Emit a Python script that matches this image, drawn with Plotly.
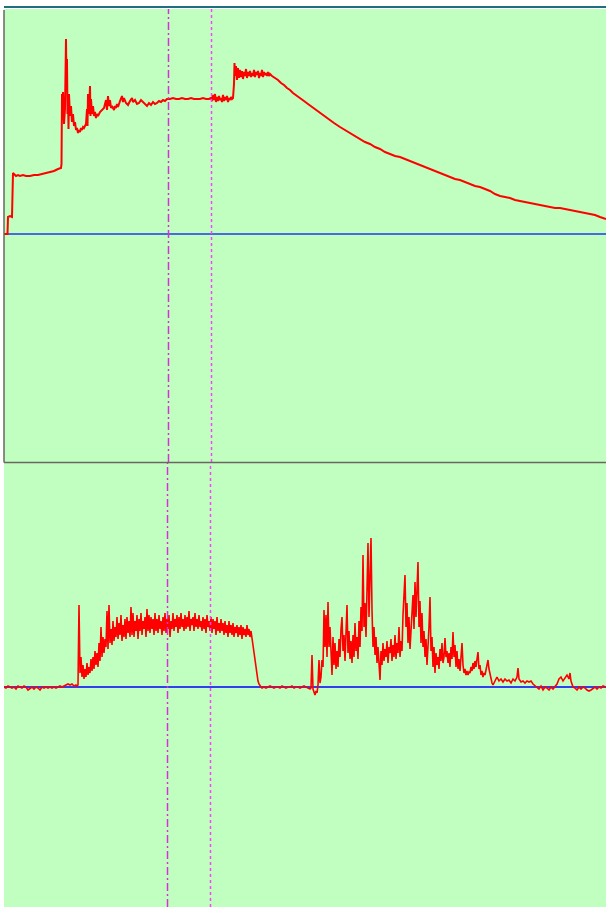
import plotly.graph_objects as go

# ---------------- data (sample index, signal value) ----------------
top_time = [4, 6, 7.5, 8, 10, 12, 12.5, 13, 14, 16, 18, 20, 23, 26, 30, 34, 38, 42, 46, 50, 54, 58, 61, 61.5,
            62, 62.5, 63, 64, 65, 66, 66.5, 67, 67.5, 68, 68.5, 69, 70, 71, 72, 73, 74, 75, 76, 77, 78, 79, 80,
            81, 82, 83, 84, 85, 86, 87, 87.5, 88, 89, 90, 90.5, 91, 92, 93, 94, 95, 96, 97, 98, 100, 102, 104,
            106, 107, 108, 109, 110, 111, 112, 113, 114, 115, 116, 117, 118, 120, 122, 123, 124, 126, 128, 130,
            132, 133, 135, 137, 139, 141, 143, 145, 147, 149, 151, 153, 155, 157, 159, 161, 163, 165, 167, 170,
            173, 176, 179, 182, 185, 188, 191, 194, 197, 200, 203, 206, 209, 211, 212, 213, 214, 215, 216, 217,
            218, 219, 220, 221, 222, 223, 224, 225, 226, 227, 228, 229, 230, 231, 232, 233, 234, 234.5, 235,
            236, 237, 238, 239, 240, 241, 242, 243, 244, 245, 246, 247, 248, 249, 250, 251, 252, 253, 254, 255,
            256, 257, 258, 259, 260, 261, 262, 263, 264, 265, 266, 267, 268, 269, 270, 272, 275, 278, 281, 284,
            287, 290, 293, 296, 300, 304, 308, 312, 316, 320, 324, 328, 334, 340, 345, 350, 355, 360, 365, 370,
            375, 380, 385, 390, 395, 400, 405, 410, 415, 420, 425, 430, 435, 440, 445, 450, 455, 460, 465, 470,
            475, 480, 485, 490, 495, 500, 505, 510, 515, 520, 525, 530, 535, 540, 545, 550, 555, 560, 565, 570,
            575, 580, 585, 590, 595, 600, 606]
top_value = [0, 0, 0, 17, 18, 17, 40, 61, 60, 58, 59, 58, 59, 58, 58, 59, 59, 60, 61, 62, 63, 65, 66, 70,
             140, 128, 142, 110, 125, 195, 150, 175, 120, 138, 105, 140, 118, 128, 112, 120, 108, 112, 104, 106,
             101, 104, 102, 106, 104, 107, 106, 108, 110, 125, 108, 140, 120, 148, 118, 135, 120, 128, 118, 122,
             116, 120, 118, 122, 124, 126, 134, 124, 138, 128, 134, 126, 128, 126, 124, 128, 126, 130, 127, 133,
             138, 132, 136, 131, 129, 133, 136, 132, 134, 130, 131, 134, 132, 130, 128, 131, 129, 132, 130, 131,
             133, 132, 134, 133, 135, 135, 136, 135, 135, 136, 135, 135, 136, 135, 135, 135, 136, 135, 135, 136,
             133, 139, 134, 140, 132, 137, 133, 138, 134, 136, 132, 139, 133, 137, 134, 138, 132, 136, 134, 137,
             135, 136, 150, 171, 158, 168, 154, 166, 156, 164, 157, 163, 155, 162, 158, 165, 156, 162, 158, 163,
             157, 161, 158, 164, 157, 162, 159, 163, 156, 161, 158, 164, 157, 162, 159, 161, 158, 162, 158, 160,
             158, 156, 154, 151, 149, 146, 144, 141, 139, 136, 133, 130, 127, 124, 121, 118, 115, 111, 107, 104,
             101, 98, 95, 92, 90, 87, 85, 82, 80, 78, 77, 75, 73, 71, 69, 67, 65, 63, 61, 59, 57, 55, 54, 52, 50,
             48, 47, 45, 43, 40, 38, 37, 36, 34, 33, 32, 31, 30, 29, 28, 27, 26, 26, 25, 24, 23, 22, 21, 20, 19,
             17, 15]

# bottom signal, quiet start (every 2nd sample)
bot_a_time = list(range(4, 78, 2))
bot_a_value = [0, -1, 1, 0, -1, 0, -2, 1, 0, -1, 1, 0, -3, -1, 0, -2, 0, -1, -3, 0, -1, 0, -1, 0, -1,
               0, -1, 0, 1, 0, 1, 2, 3, 2, 3, 1, 2]
# first active burst (every sample, 77..262)
bot_b_time = list(range(77, 263))
bot_b_value = [1,
               2, 82, 14, 30, 10, 22, 8, 18, 10, 24,
               12, 20, 14, 28, 16, 30, 18, 36, 22, 34,
               20, 44, 26, 60, 30, 50, 34, 48, 40, 76,
               38, 82, 44, 58, 42, 66, 46, 60, 50, 70,
               48, 64, 52, 72, 46, 62, 50, 68, 48, 70,
               54, 66, 50, 80, 52, 74, 50, 66, 56, 72,
               48, 68, 56, 74, 52, 66, 58, 70, 50, 78,
               56, 72, 54, 70, 58, 68, 52, 74, 56, 68,
               54, 72, 58, 66, 52, 70, 56, 74, 54, 68,
               58, 72, 50, 66, 58, 74, 56, 68, 60, 72,
               54, 70, 58, 74, 60, 68, 56, 72, 58, 70,
               60, 76, 56, 68, 62, 70, 56, 74, 60, 68,
               58, 72, 60, 66, 56, 70, 58, 68, 54, 72,
               60, 66, 56, 70, 54, 68, 58, 66, 52, 70,
               56, 64, 54, 68, 56, 64, 52, 66, 54, 62,
               50, 66, 54, 62, 52, 64, 50, 60, 54, 62,
               50, 60, 52, 62, 48, 60, 52, 58, 50, 62,
               52, 58, 50, 56, 48, 40, 34, 26, 18, 12,
               6, 3, 1, 0, -1]
# quiet gap (every 2nd sample)
bot_c_time = list(range(264, 312, 2))
bot_c_value = [0, -1, 0, 1, 0, -1, 0, 0, -1, 1, 0, -1, 0, 0, 1, -1, 0, 0, -1, 0, 1, 0, -1, -2]
# second burst (every sample, 311..493)
bot_d_time = list(range(311, 494))
bot_d_value = [-1,
               32, -2, -5, -8, -4, -6, 2, 27, 4, 10,
               27, 20, 77, 40, 72, 30, 85, 40, 60, 24,
               12, 50, 22, 44, 18, 36, 20, 48, 30, 58,
               70, 36, 52, 26, 60, 82, 34, 56, 28, 46,
               24, 52, 30, 64, 36, 50, 28, 66, 40, 80,
               56, 132, 60, 84, 50, 120, 144, 70, 110, 149,
               77, 40, 60, 32, 50, 24, 40, 18, 7, 36,
               22, 44, 26, 38, 30, 46, 24, 40, 34, 48,
               26, 42, 30, 52, 28, 44, 34, 60, 30, 46,
               36, 72, 90, 112, 60, 84, 44, 70, 38, 54,
               66, 92, 58, 105, 70, 96, 125, 60, 86, 44,
               74, 40, 56, 30, 48, 22, 36, 60, 90, 36,
               50, 20, 40, 14, 34, 22, 30, 18, 38, 26,
               44, 24, 30, 49, 30, 36, 24, 34, 20, 40,
               28, 55, 30, 42, 20, 36, 18, 28, 16, 30,
               44, 22, 14, 18, 12, 16, 12, 15, 14, 20,
               16, 24, 18, 26, 20, 28, 35, 18, 22, 12,
               16, 10, 14, 12, 18, 22, 27, 18, 12, 6,
               4, 2]
# tail
bot_e_time = [495, 497, 499, 501, 503, 505, 507, 509, 511, 513, 515, 517, 518, 519, 521, 523, 525, 527,
              529, 531, 533, 535, 537, 539, 541, 543, 545, 547, 549, 551, 553, 555, 557, 559, 561, 563,
              565, 567, 569, 570, 571, 573, 575, 577, 579, 581, 583, 585, 587, 589, 591, 593, 595, 597,
              599, 601, 603, 606]
bot_e_value = [6, 10, 6, 8, 5, 8, 6, 7, 4, 8, 6, 10, 19, 8, 5, 6, 4, 6, 5, 6, 3, 1, 0, -2, 1, -3, 0, -1,
               -3, 0, -2, 1, 3, 8, 10, 6, 9, 12, 8, 14, 6, 0, -1, -3, 0, -2, 0, -1, -3, -4, -3, -1, 0, -2,
               0, -1, 1, 0]

bottom_time = bot_a_time + bot_b_time + bot_c_time + bot_d_time + bot_e_time
bottom_value = bot_a_value + bot_b_value + bot_c_value + bot_d_value + bot_e_value

cursor_times_top = [168.5, 211.5]      # dash-dot cursor, dotted cursor
cursor_times_bottom = [167.5, 210.5]
x_range = [4, 606]
top_range = [-228, 225]
bottom_range = [-220, 224]

# ---------------- figure ----------------
W, H = 606, 907
GREEN = "#c0ffc0"
RED = "#ff0000"

fig = go.Figure()
fig.add_trace(go.Scatter(x=top_time, y=top_value, mode="lines",
                         line=dict(color=RED, width=2), xaxis="x", yaxis="y",
                         hoverinfo="skip", showlegend=False))
fig.add_trace(go.Scatter(x=bottom_time, y=bottom_value, mode="lines",
                         line=dict(color=RED, width=1.6), xaxis="x2", yaxis="y2",
                         hoverinfo="skip", showlegend=False))

x_left = 4 / W
ax_common = dict(showgrid=False, zeroline=False, showticklabels=False, ticks="", showline=False,
                 fixedrange=True)
fig.update_layout(
    width=W, height=H, autosize=False,
    margin=dict(l=0, r=0, t=0, b=0),
    paper_bgcolor="white", plot_bgcolor=GREEN,
    xaxis=dict(domain=[x_left, 1], range=x_range, anchor="y", **ax_common),
    yaxis=dict(domain=[(H - 462) / H, (H - 9) / H], range=top_range, anchor="x", **ax_common),
    xaxis2=dict(domain=[x_left, 1], range=x_range, anchor="y2", **ax_common),
    yaxis2=dict(domain=[0, (H - 463) / H], range=bottom_range, anchor="x2", **ax_common),
)

shapes = []
# zero lines (below traces)
shapes.append(dict(type="line", xref="x domain", x0=0, x1=1, yref="y", y0=0, y1=0,
                   line=dict(color="#4a6be0", width=2), layer="below"))
shapes.append(dict(type="line", xref="x2 domain", x0=0, x1=1, yref="y2", y0=0, y1=0,
                   line=dict(color="#0000ff", width=1.5), layer="below"))
# cursors
styles = [dict(color="#d830d8", width=1.5, dash="8px,3px,2px,3px"),
          dict(color="#ff40ff", width=1.5, dash="3px,3px")]
for tt, tb, st in zip(cursor_times_top, cursor_times_bottom, styles):
    shapes.append(dict(type="line", xref="x", x0=tt, x1=tt, yref="y domain", y0=0, y1=1, line=st))
    shapes.append(dict(type="line", xref="x2", x0=tb, x1=tb, yref="y2 domain", y0=0, y1=1, line=st))
# frame lines
shapes.append(dict(type="line", xref="paper", x0=x_left, x1=1, yref="paper",
                   y0=(H - 7) / H, y1=(H - 7) / H, line=dict(color="#1f6f80", width=2)))
shapes.append(dict(type="line", xref="paper", x0=x_left, x1=x_left, yref="paper",
                   y0=(H - 462.5) / H, y1=(H - 10) / H, line=dict(color="#6b6660", width=1.5)))
shapes.append(dict(type="line", xref="paper", x0=x_left, x1=1, yref="paper",
                   y0=(H - 462.5) / H, y1=(H - 462.5) / H, line=dict(color="#6b6660", width=1.5)))
fig.update_layout(shapes=shapes)

fig.write_html("out.html", config=dict(displayModeBar=False),
               post_script="document.body.style.margin='0';document.body.style.padding='0';"
                           "document.body.style.overflow='hidden';")
